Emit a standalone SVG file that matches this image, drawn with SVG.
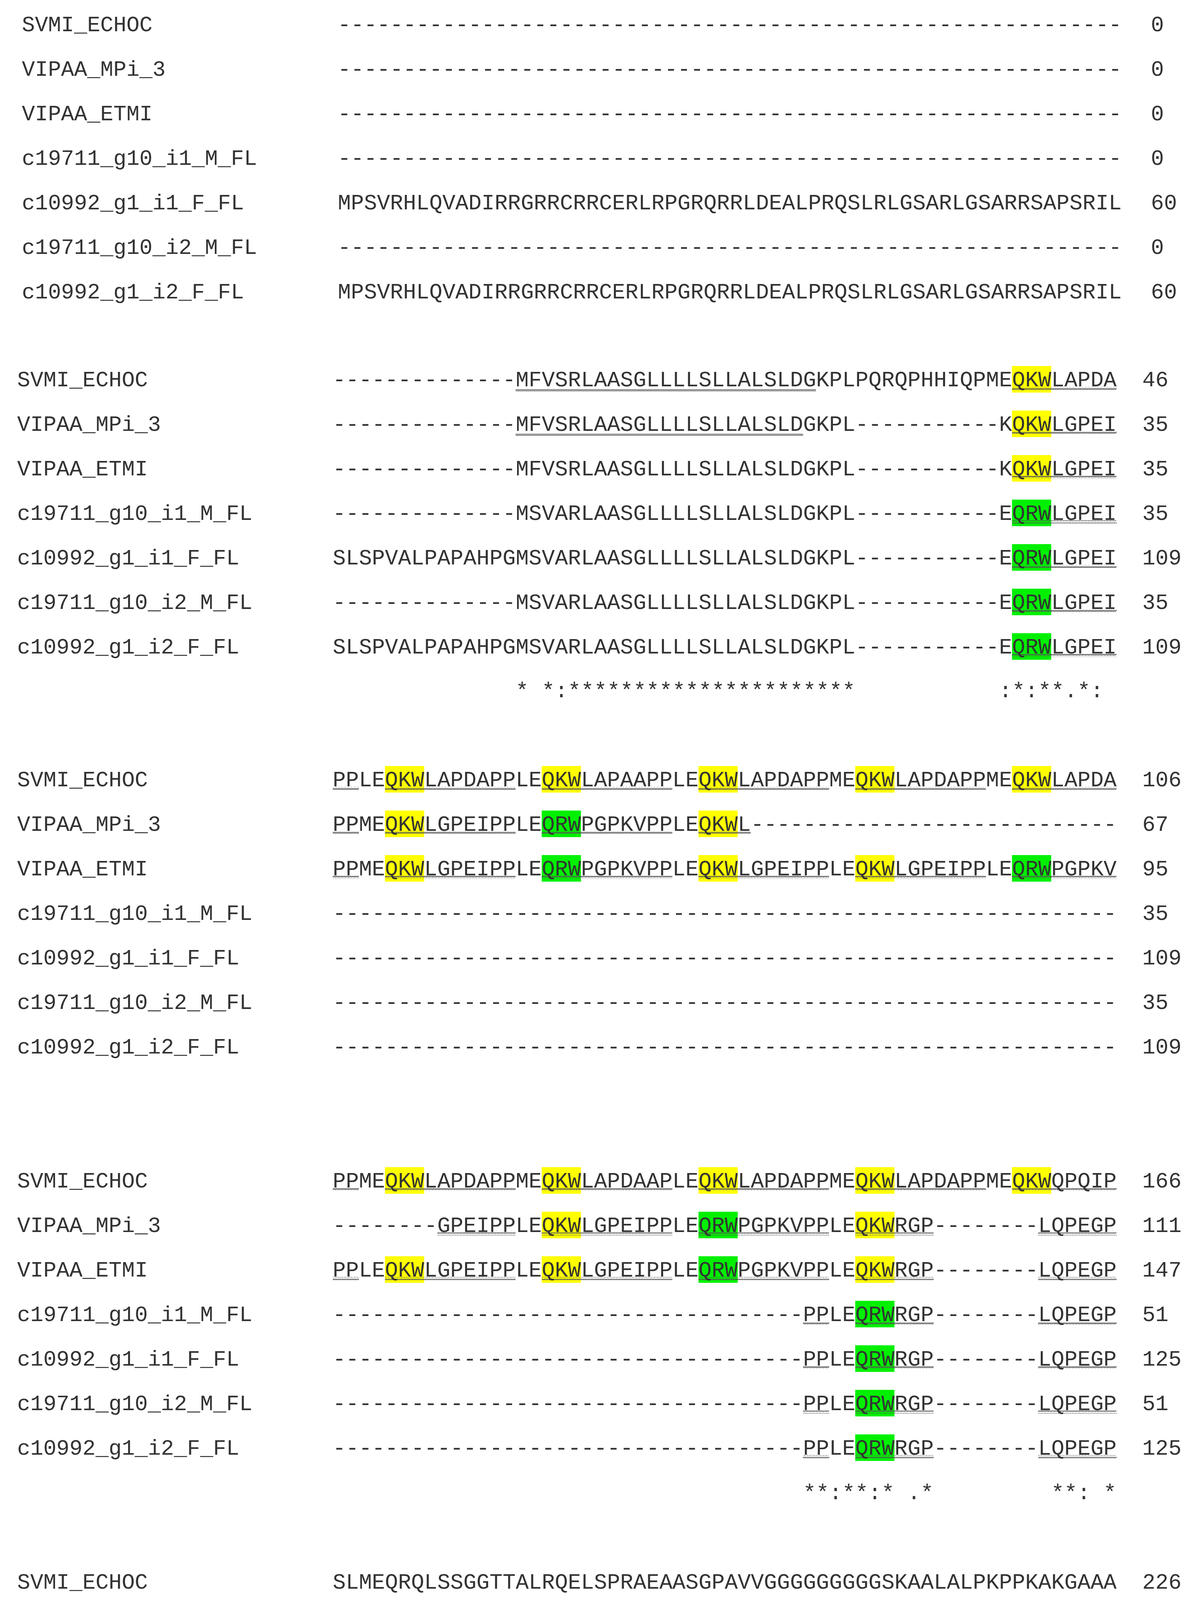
<svg xmlns="http://www.w3.org/2000/svg" width="3060" height="4896" viewBox="0 0 3060 4896" xml:space="preserve">
<style>
text{font-family:"Liberation Mono","Courier New",monospace;font-size:55.75px;fill:#333;white-space:pre}
.n{font-family:"Liberation Mono",monospace}
.y{fill:#ffff00}.g{fill:#00f000}
.w{fill:url(#wv)}
.u{fill:#9a9a9a}
</style>
<defs>
<pattern id="wv" patternUnits="userSpaceOnUse" width="8" height="8"><path d="M0 6 L2 2 L4 6 L6 2 L8 6" fill="none" stroke="#555" stroke-width="1.6"/></pattern>
</defs>
<rect width="3060" height="4896" fill="#fff"/>
<g id="block1">
<text x="56" y="80">SVMI_ECHOC</text><text x="865" y="80">------------------------------------------------------------</text><text x="2947" y="80">0</text>
<text x="56" y="194">VIPAA_MPi_3</text><text x="865" y="194">------------------------------------------------------------</text><text x="2947" y="194">0</text>
<text x="56" y="308">VIPAA_ETMI</text><text x="865" y="308">------------------------------------------------------------</text><text x="2947" y="308">0</text>
<text x="56" y="422">c19711_g10_i1_M_FL</text><text x="865" y="422">------------------------------------------------------------</text><text x="2947" y="422">0</text>
<text x="56" y="536">c10992_g1_i1_F_FL</text><text x="865" y="536">MPSVRHLQVADIRRGRRCRRCERLRPGRQRRLDEALPRQSLRLGSARLGSARRSAPSRIL</text><text x="2947" y="536">60</text>
<text x="56" y="650">c19711_g10_i2_M_FL</text><text x="865" y="650">------------------------------------------------------------</text><text x="2947" y="650">0</text>
<text x="56" y="764">c10992_g1_i2_F_FL</text><text x="865" y="764">MPSVRHLQVADIRRGRRCRRCERLRPGRQRRLDEALPRQSLRLGSARLGSARRSAPSRIL</text><text x="2947" y="764">60</text>
</g>
<g id="block2">
<rect class="y" x="2591.4" y="937" width="100.4" height="68"/>
<rect class="y" x="2591.4" y="1051" width="100.4" height="68"/>
<rect class="y" x="2591.4" y="1165" width="100.4" height="68"/>
<rect class="g" x="2591.4" y="1279" width="100.4" height="68"/>
<rect class="g" x="2591.4" y="1393" width="100.4" height="68"/>
<rect class="g" x="2591.4" y="1507" width="100.4" height="68"/>
<rect class="g" x="2591.4" y="1621" width="100.4" height="68"/>
<rect class="u" x="1320.3" y="996" width="769" height="6"/>
<rect class="u" x="1320.3" y="1110" width="736" height="6"/>
<rect class="w" x="2591.4" y="990" width="267.6" height="8"/>
<rect class="w" x="2591.4" y="1104" width="267.6" height="8"/>
<rect class="w" x="2591.4" y="1218" width="267.6" height="8"/>
<rect class="w" x="2591.4" y="1332" width="267.6" height="8"/>
<rect class="w" x="2591.4" y="1446" width="267.6" height="8"/>
<rect class="w" x="2591.4" y="1560" width="267.6" height="8"/>
<rect class="w" x="2591.4" y="1674" width="267.6" height="8"/>
<text x="44" y="989">SVMI_ECHOC</text><text x="852" y="989">--------------MFVSRLAASGLLLLSLLALSLDGKPLPQRQPHHIQPMEQKWLAPDA</text><text x="2925" y="989">46</text>
<text x="44" y="1103">VIPAA_MPi_3</text><text x="852" y="1103">--------------MFVSRLAASGLLLLSLLALSLDGKPL-----------KQKWLGPEI</text><text x="2925" y="1103">35</text>
<text x="44" y="1217">VIPAA_ETMI</text><text x="852" y="1217">--------------MFVSRLAASGLLLLSLLALSLDGKPL-----------KQKWLGPEI</text><text x="2925" y="1217">35</text>
<text x="44" y="1331">c19711_g10_i1_M_FL</text><text x="852" y="1331">--------------MSVARLAASGLLLLSLLALSLDGKPL-----------EQRWLGPEI</text><text x="2925" y="1331">35</text>
<text x="44" y="1445">c10992_g1_i1_F_FL</text><text x="852" y="1445">SLSPVALPAPAHPGMSVARLAASGLLLLSLLALSLDGKPL-----------EQRWLGPEI</text><text x="2925" y="1445">109</text>
<text x="44" y="1559">c19711_g10_i2_M_FL</text><text x="852" y="1559">--------------MSVARLAASGLLLLSLLALSLDGKPL-----------EQRWLGPEI</text><text x="2925" y="1559">35</text>
<text x="44" y="1673">c10992_g1_i2_F_FL</text><text x="852" y="1673">SLSPVALPAPAHPGMSVARLAASGLLLLSLLALSLDGKPL-----------EQRWLGPEI</text><text x="2925" y="1673">109</text>
<text x="1320.3" y="1785">* *:**********************</text><text x="2557.95" y="1785">:*:**.*:</text>
</g>
<g id="block3">
<rect class="y" x="985.8" y="1961" width="100.4" height="68"/><rect class="y" x="1387.2" y="1961" width="100.4" height="68"/><rect class="y" x="1788.6" y="1961" width="100.4" height="68"/><rect class="y" x="2190" y="1961" width="100.4" height="68"/><rect class="y" x="2591.4" y="1961" width="100.4" height="68"/>
<rect class="y" x="985.8" y="2075" width="100.4" height="68"/><rect class="g" x="1387.2" y="2075" width="100.4" height="68"/><rect class="y" x="1788.6" y="2075" width="100.4" height="68"/>
<rect class="y" x="985.8" y="2189" width="100.4" height="68"/><rect class="g" x="1387.2" y="2189" width="100.4" height="68"/><rect class="y" x="1788.6" y="2189" width="100.4" height="68"/><rect class="y" x="2190" y="2189" width="100.4" height="68"/><rect class="g" x="2591.4" y="2189" width="100.4" height="68"/>
<rect class="w" x="852" y="2014" width="66.9" height="8"/><rect class="w" x="985.8" y="2014" width="334.5" height="8"/><rect class="w" x="1387.2" y="2014" width="334.5" height="8"/><rect class="w" x="1788.6" y="2014" width="334.5" height="8"/><rect class="w" x="2190" y="2014" width="334.5" height="8"/><rect class="w" x="2591.4" y="2014" width="267.6" height="8"/>
<rect class="w" x="852" y="2128" width="66.9" height="8"/><rect class="w" x="985.8" y="2128" width="334.5" height="8"/><rect class="w" x="1387.2" y="2128" width="334.5" height="8"/><rect class="w" x="1788.6" y="2128" width="133.8" height="8"/>
<rect class="w" x="852" y="2242" width="66.9" height="8"/><rect class="w" x="985.8" y="2242" width="334.5" height="8"/><rect class="w" x="1387.2" y="2242" width="334.5" height="8"/><rect class="w" x="1788.6" y="2242" width="334.5" height="8"/><rect class="w" x="2190" y="2242" width="334.5" height="8"/><rect class="w" x="2591.4" y="2242" width="267.6" height="8"/>
<text x="44" y="2013">SVMI_ECHOC</text><text x="852" y="2013">PPLEQKWLAPDAPPLEQKWLAPAAPPLEQKWLAPDAPPMEQKWLAPDAPPMEQKWLAPDA</text><text x="2925" y="2013">106</text>
<text x="44" y="2127">VIPAA_MPi_3</text><text x="852" y="2127">PPMEQKWLGPEIPPLEQRWPGPKVPPLEQKWL----------------------------</text><text x="2925" y="2127">67</text>
<text x="44" y="2241">VIPAA_ETMI</text><text x="852" y="2241">PPMEQKWLGPEIPPLEQRWPGPKVPPLEQKWLGPEIPPLEQKWLGPEIPPLEQRWPGPKV</text><text x="2925" y="2241">95</text>
<text x="44" y="2355">c19711_g10_i1_M_FL</text><text x="852" y="2355">------------------------------------------------------------</text><text x="2925" y="2355">35</text>
<text x="44" y="2469">c10992_g1_i1_F_FL</text><text x="852" y="2469">------------------------------------------------------------</text><text x="2925" y="2469">109</text>
<text x="44" y="2583">c19711_g10_i2_M_FL</text><text x="852" y="2583">------------------------------------------------------------</text><text x="2925" y="2583">35</text>
<text x="44" y="2697">c10992_g1_i2_F_FL</text><text x="852" y="2697">------------------------------------------------------------</text><text x="2925" y="2697">109</text>
</g>
<g id="block4">
<rect class="y" x="985.8" y="2988" width="100.4" height="68"/><rect class="y" x="1387.2" y="2988" width="100.4" height="68"/><rect class="y" x="1788.6" y="2988" width="100.4" height="68"/><rect class="y" x="2190" y="2988" width="100.4" height="68"/><rect class="y" x="2591.4" y="2988" width="100.4" height="68"/>
<rect class="y" x="1387.2" y="3102" width="100.4" height="68"/><rect class="g" x="1788.6" y="3102" width="100.4" height="68"/><rect class="y" x="2190" y="3102" width="100.4" height="68"/>
<rect class="y" x="985.8" y="3216" width="100.4" height="68"/><rect class="y" x="1387.2" y="3216" width="100.4" height="68"/><rect class="g" x="1788.6" y="3216" width="100.4" height="68"/><rect class="y" x="2190" y="3216" width="100.4" height="68"/>
<rect class="g" x="2190" y="3330" width="100.4" height="68"/><rect class="g" x="2190" y="3444" width="100.4" height="68"/><rect class="g" x="2190" y="3558" width="100.4" height="68"/><rect class="g" x="2190" y="3672" width="100.4" height="68"/>
<rect class="w" x="852" y="3041" width="66.9" height="8"/><rect class="w" x="985.8" y="3041" width="334.5" height="8"/><rect class="w" x="1387.2" y="3041" width="334.5" height="8"/><rect class="w" x="1788.6" y="3041" width="334.5" height="8"/><rect class="w" x="2190" y="3041" width="334.5" height="8"/><rect class="w" x="2591.4" y="3041" width="267.6" height="8"/>
<rect class="w" x="1119.6" y="3155" width="200.7" height="8"/><rect class="w" x="1387.2" y="3155" width="334.5" height="8"/><rect class="w" x="1788.6" y="3155" width="334.5" height="8"/><rect class="w" x="2190" y="3155" width="200.7" height="8"/><rect class="w" x="2658.3" y="3155" width="200.7" height="8"/>
<rect class="w" x="852" y="3269" width="66.9" height="8"/><rect class="w" x="985.8" y="3269" width="334.5" height="8"/><rect class="w" x="1387.2" y="3269" width="334.5" height="8"/><rect class="w" x="1788.6" y="3269" width="334.5" height="8"/><rect class="w" x="2190" y="3269" width="200.7" height="8"/><rect class="w" x="2658.3" y="3269" width="200.7" height="8"/>
<rect class="w" x="2056.2" y="3383" width="66.9" height="8"/><rect class="w" x="2190" y="3383" width="200.7" height="8"/><rect class="w" x="2658.3" y="3383" width="200.7" height="8"/>
<rect class="w" x="2056.2" y="3497" width="66.9" height="8"/><rect class="w" x="2190" y="3497" width="200.7" height="8"/><rect class="w" x="2658.3" y="3497" width="200.7" height="8"/>
<rect class="w" x="2056.2" y="3611" width="66.9" height="8"/><rect class="w" x="2190" y="3611" width="200.7" height="8"/><rect class="w" x="2658.3" y="3611" width="200.7" height="8"/>
<rect class="w" x="2056.2" y="3725" width="66.9" height="8"/><rect class="w" x="2190" y="3725" width="200.7" height="8"/><rect class="w" x="2658.3" y="3725" width="200.7" height="8"/>
<text x="44" y="3040">SVMI_ECHOC</text><text x="852" y="3040">PPMEQKWLAPDAPPMEQKWLAPDAAPLEQKWLAPDAPPMEQKWLAPDAPPMEQKWQPQIP</text><text x="2925" y="3040">166</text>
<text x="44" y="3154">VIPAA_MPi_3</text><text x="852" y="3154">--------GPEIPPLEQKWLGPEIPPLEQRWPGPKVPPLEQKWRGP--------LQPEGP</text><text x="2925" y="3154">111</text>
<text x="44" y="3268">VIPAA_ETMI</text><text x="852" y="3268">PPLEQKWLGPEIPPLEQKWLGPEIPPLEQRWPGPKVPPLEQKWRGP--------LQPEGP</text><text x="2925" y="3268">147</text>
<text x="44" y="3382">c19711_g10_i1_M_FL</text><text x="852" y="3382">------------------------------------PPLEQRWRGP--------LQPEGP</text><text x="2925" y="3382">51</text>
<text x="44" y="3496">c10992_g1_i1_F_FL</text><text x="852" y="3496">------------------------------------PPLEQRWRGP--------LQPEGP</text><text x="2925" y="3496">125</text>
<text x="44" y="3610">c19711_g10_i2_M_FL</text><text x="852" y="3610">------------------------------------PPLEQRWRGP--------LQPEGP</text><text x="2925" y="3610">51</text>
<text x="44" y="3724">c10992_g1_i2_F_FL</text><text x="852" y="3724">------------------------------------PPLEQRWRGP--------LQPEGP</text><text x="2925" y="3724">125</text>
<text x="2056.2" y="3838">**:**:* .*</text><text x="2691.75" y="3838">**: *</text>
</g>
<g id="block5">
<rect class="w" x="852" y="4182" width="33.45" height="8"/><rect class="w" x="852" y="4296" width="33.45" height="8"/><rect class="w" x="852" y="4410" width="33.45" height="8"/><rect class="w" x="852" y="4524" width="33.45" height="8"/><rect class="w" x="852" y="4638" width="33.45" height="8"/><rect class="w" x="852" y="4752" width="33.45" height="8"/>
<text x="44" y="4067">SVMI_ECHOC</text><text x="852" y="4067">SLMEQRQLSSGGTTALRQELSPRAEAASGPAVVGGGGGGGGGSKAALALPKPPKAKGAAA</text><text x="2925" y="4067">226</text>
<text x="44" y="4181">VIPAA_MPi_3</text><text x="852" y="4181">PLMEPHELSAGGTTALREELSPRAEAASA-------------------------------</text><text x="2925" y="4181">140</text>
<text x="44" y="4295">VIPAA_ETMI</text><text x="852" y="4295">PLMEPHELSAGGTTALREELSPRAEAASA-------------------------------</text><text x="2925" y="4295">176</text>
<text x="44" y="4409">c19711_g10_i1_M_FL</text><text x="852" y="4409">PLMEPHELSAGGTTALREEPSPRAEAAQHPG----G--GGGS------------------</text><text x="2925" y="4409">87</text>
<text x="44" y="4523">c10992_g1_i1_F_FL</text><text x="852" y="4523">PLMEPHELSAGGTTALREEPSPRAEAAQHPG----G--GGGS------------------</text><text x="2925" y="4523">161</text>
<text x="44" y="4637">c19711_g10_i2_M_FL</text><text x="852" y="4637">PLMEPHELSAGGTTALREEPSPRAEAASGPAAAAGG--GGGSSKAALAVPKPPKAKGASA</text><text x="2925" y="4637">109</text>
<text x="44" y="4751">c10992_g1_i2_F_FL</text><text x="852" y="4751">PLMEPHELSAGGTTALREEPSPRAEAASGPAAAAGG--GGGSSKAALVVPKPPKAKGASA</text><text x="2925" y="4751">183</text>
<text x="885.45" y="4865">*** ::**:*******:* *******.</text>
</g>
<g id="connectors"/>
</svg>
